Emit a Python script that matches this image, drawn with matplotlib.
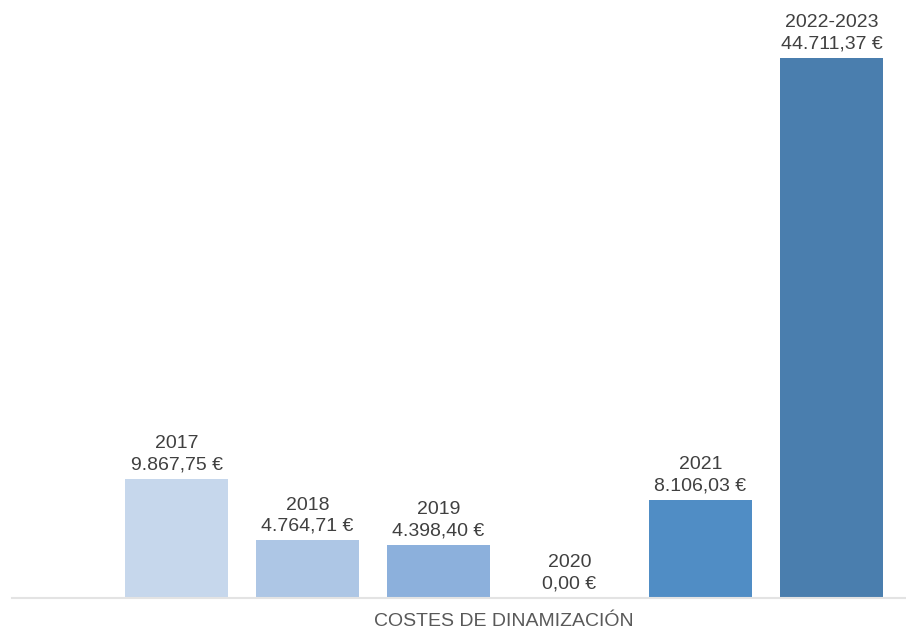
import numpy as np
import matplotlib.pyplot as plt

plt.rcParams['font.family'] = ['Liberation Sans', 'DejaVu Sans']

# Data
years = ['2017', '2018', '2019', '2020', '2021', '2022-2023']
costs = [9867.75, 4764.71, 4398.40, 0.00, 8106.03, 44711.37]
colors = ['#C6D7EC', '#ADC6E5', '#8CB0DC', '#6F9FD3', '#508DC5', '#4A7EAE']

def fmt_eur(v):
    s = f'{v:,.2f}'
    s = s.replace(',', 'X').replace('.', ',').replace('X', '.')
    return s + ' €'

fig = plt.figure(figsize=(9.06, 6.3), dpi=100)
ax = fig.add_axes([12/906, 32/630, 894/906, 598/630])

x = np.arange(len(years))
ax.bar(x, costs, width=0.786, color=colors)

for xi, yr, v in zip(x, years, costs):
    ax.annotate(f'{yr}\n{fmt_eur(v)}', (xi, v), xytext=(0, 4), textcoords='offset points',
                ha='center', va='bottom', fontsize=14, color='#404040', linespacing=1.32)

ax.set_xlim(-1.256, 5.569)
ax.set_ylim(0, 49512)
ax.set_yticks([])
ax.set_xticks([])
for side in ['top', 'right', 'left']:
    ax.spines[side].set_visible(False)
ax.spines['bottom'].set_color('#E3E3E3')
ax.spines['bottom'].set_linewidth(1.5)

fig.text(504/906, 1 - 621/630, 'COSTES DE DINAMIZACIÓN', ha='center', va='center',
         fontsize=14, color='#595959')

fig.savefig('out.png', dpi=100)
